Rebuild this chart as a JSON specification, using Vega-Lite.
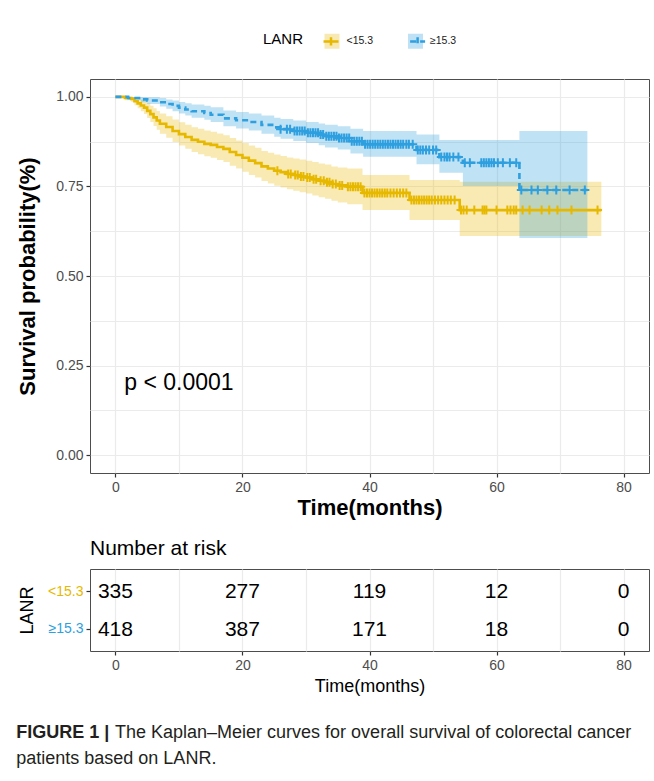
{
  "$schema": "https://vega.github.io/schema/vega-lite/v6.json",
  "padding": {"left": 16, "top": 32, "right": 5, "bottom": 5},
  "config": {
    "font": "Liberation Sans",
    "view": {"stroke": "#4D4D4D", "strokeWidth": 1},
    "axis": {"gridColor": "#EBEBEB", "gridWidth": 1.2, "tickColor": "#333333", "tickSize": 4, "tickWidth": 1.2, "labelColor": "#4D4D4D", "labelFontSize": 14, "labelPadding": 3, "domain": false, "titleColor": "black"}
  },
  "datasets": {
    "km": [
      {"g": "<15.3", "g2": "<15.3", "t": 0, "s": 1.0, "lo": 1.0, "hi": 1.0},
      {"g": "<15.3", "g2": "<15.3", "t": 1.5, "s": 0.997, "lo": 0.991, "hi": 1.0},
      {"g": "<15.3", "g2": "<15.3", "t": 2.5, "s": 0.994, "lo": 0.986, "hi": 1.0},
      {"g": "<15.3", "g2": "<15.3", "t": 3, "s": 0.988, "lo": 0.977, "hi": 0.999},
      {"g": "<15.3", "g2": "<15.3", "t": 3.5, "s": 0.982, "lo": 0.968, "hi": 0.996},
      {"g": "<15.3", "g2": "<15.3", "t": 4, "s": 0.976, "lo": 0.96, "hi": 0.992},
      {"g": "<15.3", "g2": "<15.3", "t": 4.5, "s": 0.97, "lo": 0.952, "hi": 0.988},
      {"g": "<15.3", "g2": "<15.3", "t": 5, "s": 0.961, "lo": 0.941, "hi": 0.982},
      {"g": "<15.3", "g2": "<15.3", "t": 5.5, "s": 0.952, "lo": 0.93, "hi": 0.975},
      {"g": "<15.3", "g2": "<15.3", "t": 6, "s": 0.943, "lo": 0.919, "hi": 0.968},
      {"g": "<15.3", "g2": "<15.3", "t": 6.5, "s": 0.934, "lo": 0.908, "hi": 0.961},
      {"g": "<15.3", "g2": "<15.3", "t": 7, "s": 0.925, "lo": 0.897, "hi": 0.954},
      {"g": "<15.3", "g2": "<15.3", "t": 8, "s": 0.916, "lo": 0.886, "hi": 0.946},
      {"g": "<15.3", "g2": "<15.3", "t": 9, "s": 0.905, "lo": 0.874, "hi": 0.937},
      {"g": "<15.3", "g2": "<15.3", "t": 10, "s": 0.896, "lo": 0.864, "hi": 0.929},
      {"g": "<15.3", "g2": "<15.3", "t": 11, "s": 0.888, "lo": 0.855, "hi": 0.922},
      {"g": "<15.3", "g2": "<15.3", "t": 12, "s": 0.88, "lo": 0.846, "hi": 0.915},
      {"g": "<15.3", "g2": "<15.3", "t": 13, "s": 0.875, "lo": 0.84, "hi": 0.911},
      {"g": "<15.3", "g2": "<15.3", "t": 14, "s": 0.869, "lo": 0.834, "hi": 0.906},
      {"g": "<15.3", "g2": "<15.3", "t": 15, "s": 0.866, "lo": 0.83, "hi": 0.903},
      {"g": "<15.3", "g2": "<15.3", "t": 16, "s": 0.86, "lo": 0.824, "hi": 0.898},
      {"g": "<15.3", "g2": "<15.3", "t": 17, "s": 0.855, "lo": 0.818, "hi": 0.893},
      {"g": "<15.3", "g2": "<15.3", "t": 18, "s": 0.846, "lo": 0.808, "hi": 0.885},
      {"g": "<15.3", "g2": "<15.3", "t": 19, "s": 0.838, "lo": 0.8, "hi": 0.878},
      {"g": "<15.3", "g2": "<15.3", "t": 20, "s": 0.83, "lo": 0.791, "hi": 0.871},
      {"g": "<15.3", "g2": "<15.3", "t": 21, "s": 0.822, "lo": 0.782, "hi": 0.864},
      {"g": "<15.3", "g2": "<15.3", "t": 22, "s": 0.815, "lo": 0.775, "hi": 0.858},
      {"g": "<15.3", "g2": "<15.3", "t": 23, "s": 0.806, "lo": 0.765, "hi": 0.849},
      {"g": "<15.3", "g2": "<15.3", "t": 24, "s": 0.8, "lo": 0.758, "hi": 0.844},
      {"g": "<15.3", "g2": "<15.3", "t": 25, "s": 0.794, "lo": 0.752, "hi": 0.839},
      {"g": "<15.3", "g2": "<15.3", "t": 26, "s": 0.79, "lo": 0.747, "hi": 0.835},
      {"g": "<15.3", "g2": "<15.3", "t": 27, "s": 0.785, "lo": 0.742, "hi": 0.831},
      {"g": "<15.3", "g2": "<15.3", "t": 28, "s": 0.782, "lo": 0.738, "hi": 0.828},
      {"g": "<15.3", "g2": "<15.3", "t": 29, "s": 0.778, "lo": 0.734, "hi": 0.825},
      {"g": "<15.3", "g2": "<15.3", "t": 30, "s": 0.775, "lo": 0.73, "hi": 0.822},
      {"g": "<15.3", "g2": "<15.3", "t": 31, "s": 0.77, "lo": 0.725, "hi": 0.818},
      {"g": "<15.3", "g2": "<15.3", "t": 32, "s": 0.766, "lo": 0.72, "hi": 0.814},
      {"g": "<15.3", "g2": "<15.3", "t": 33, "s": 0.762, "lo": 0.716, "hi": 0.811},
      {"g": "<15.3", "g2": "<15.3", "t": 34, "s": 0.757, "lo": 0.71, "hi": 0.806},
      {"g": "<15.3", "g2": "<15.3", "t": 35, "s": 0.753, "lo": 0.705, "hi": 0.803},
      {"g": "<15.3", "g2": "<15.3", "t": 36.5, "s": 0.749, "lo": 0.7, "hi": 0.8},
      {"g": "<15.3", "g2": "<15.3", "t": 38.9, "s": 0.732, "lo": 0.684, "hi": 0.782},
      {"g": "<15.3", "g2": "<15.3", "t": 46.3, "s": 0.712, "lo": 0.656, "hi": 0.768},
      {"g": "<15.3", "g2": "<15.3", "t": 54.2, "s": 0.684, "lo": 0.612, "hi": 0.763},
      {"g": "<15.3", "g2": "<15.3", "t": 76.5, "s": 0.684, "lo": 0.612, "hi": 0.763},
      {"g": "≥15.3", "g2": "≥15.3", "t": 0, "s": 1.0, "lo": 1.0, "hi": 1.0},
      {"g": "≥15.3", "g2": "≥15.3", "t": 2, "s": 0.997, "lo": 0.992, "hi": 1.0},
      {"g": "≥15.3", "g2": "≥15.3", "t": 4, "s": 0.993, "lo": 0.985, "hi": 1.0},
      {"g": "≥15.3", "g2": "≥15.3", "t": 5, "s": 0.99, "lo": 0.98, "hi": 0.999},
      {"g": "≥15.3", "g2": "≥15.3", "t": 7, "s": 0.985, "lo": 0.973, "hi": 0.997},
      {"g": "≥15.3", "g2": "≥15.3", "t": 8, "s": 0.98, "lo": 0.967, "hi": 0.993},
      {"g": "≥15.3", "g2": "≥15.3", "t": 9, "s": 0.975, "lo": 0.96, "hi": 0.99},
      {"g": "≥15.3", "g2": "≥15.3", "t": 10, "s": 0.97, "lo": 0.954, "hi": 0.986},
      {"g": "≥15.3", "g2": "≥15.3", "t": 11, "s": 0.965, "lo": 0.948, "hi": 0.982},
      {"g": "≥15.3", "g2": "≥15.3", "t": 12, "s": 0.96, "lo": 0.942, "hi": 0.979},
      {"g": "≥15.3", "g2": "≥15.3", "t": 14, "s": 0.955, "lo": 0.936, "hi": 0.975},
      {"g": "≥15.3", "g2": "≥15.3", "t": 15, "s": 0.95, "lo": 0.93, "hi": 0.971},
      {"g": "≥15.3", "g2": "≥15.3", "t": 17, "s": 0.94, "lo": 0.918, "hi": 0.962},
      {"g": "≥15.3", "g2": "≥15.3", "t": 19, "s": 0.935, "lo": 0.912, "hi": 0.958},
      {"g": "≥15.3", "g2": "≥15.3", "t": 21, "s": 0.93, "lo": 0.906, "hi": 0.954},
      {"g": "≥15.3", "g2": "≥15.3", "t": 23, "s": 0.922, "lo": 0.897, "hi": 0.948},
      {"g": "≥15.3", "g2": "≥15.3", "t": 25, "s": 0.915, "lo": 0.889, "hi": 0.942},
      {"g": "≥15.3", "g2": "≥15.3", "t": 26, "s": 0.91, "lo": 0.883, "hi": 0.938},
      {"g": "≥15.3", "g2": "≥15.3", "t": 28, "s": 0.905, "lo": 0.877, "hi": 0.934},
      {"g": "≥15.3", "g2": "≥15.3", "t": 30, "s": 0.9, "lo": 0.871, "hi": 0.93},
      {"g": "≥15.3", "g2": "≥15.3", "t": 32, "s": 0.895, "lo": 0.865, "hi": 0.926},
      {"g": "≥15.3", "g2": "≥15.3", "t": 33, "s": 0.89, "lo": 0.859, "hi": 0.922},
      {"g": "≥15.3", "g2": "≥15.3", "t": 35, "s": 0.885, "lo": 0.853, "hi": 0.918},
      {"g": "≥15.3", "g2": "≥15.3", "t": 37, "s": 0.876, "lo": 0.842, "hi": 0.911},
      {"g": "≥15.3", "g2": "≥15.3", "t": 39, "s": 0.868, "lo": 0.833, "hi": 0.905},
      {"g": "≥15.3", "g2": "≥15.3", "t": 47.4, "s": 0.852, "lo": 0.812, "hi": 0.895},
      {"g": "≥15.3", "g2": "≥15.3", "t": 51, "s": 0.832, "lo": 0.788, "hi": 0.88},
      {"g": "≥15.3", "g2": "≥15.3", "t": 54.7, "s": 0.816, "lo": 0.751, "hi": 0.88},
      {"g": "≥15.3", "g2": "≥15.3", "t": 63.6, "s": 0.74, "lo": 0.606, "hi": 0.905},
      {"g": "≥15.3", "g2": "≥15.3", "t": 74.3, "s": 0.74, "lo": 0.606, "hi": 0.905}
    ],
    "cens": [
      {"g": "≥15.3", "t": 26, "s": 0.91}, {"g": "≥15.3", "t": 27, "s": 0.91}, {"g": "≥15.3", "t": 27.5, "s": 0.91},
      {"g": "≥15.3", "t": 28.2, "s": 0.905}, {"g": "≥15.3", "t": 28.6, "s": 0.905}, {"g": "≥15.3", "t": 29, "s": 0.905}, {"g": "≥15.3", "t": 29.4, "s": 0.905}, {"g": "≥15.3", "t": 29.8, "s": 0.905},
      {"g": "≥15.3", "t": 30.3, "s": 0.9}, {"g": "≥15.3", "t": 30.7, "s": 0.9}, {"g": "≥15.3", "t": 31.1, "s": 0.9}, {"g": "≥15.3", "t": 31.5, "s": 0.9}, {"g": "≥15.3", "t": 31.9, "s": 0.9},
      {"g": "≥15.3", "t": 32.3, "s": 0.895}, {"g": "≥15.3", "t": 32.7, "s": 0.895},
      {"g": "≥15.3", "t": 33.2, "s": 0.89}, {"g": "≥15.3", "t": 33.6, "s": 0.89}, {"g": "≥15.3", "t": 34, "s": 0.89}, {"g": "≥15.3", "t": 34.4, "s": 0.89}, {"g": "≥15.3", "t": 34.8, "s": 0.89},
      {"g": "≥15.3", "t": 35.2, "s": 0.885}, {"g": "≥15.3", "t": 35.6, "s": 0.885}, {"g": "≥15.3", "t": 36, "s": 0.885}, {"g": "≥15.3", "t": 36.4, "s": 0.885}, {"g": "≥15.3", "t": 36.8, "s": 0.885},
      {"g": "≥15.3", "t": 37.2, "s": 0.876}, {"g": "≥15.3", "t": 37.6, "s": 0.876}, {"g": "≥15.3", "t": 38, "s": 0.876}, {"g": "≥15.3", "t": 38.4, "s": 0.876}, {"g": "≥15.3", "t": 38.8, "s": 0.876},
      {"g": "≥15.3", "t": 39.3, "s": 0.868}, {"g": "≥15.3", "t": 39.7, "s": 0.868}, {"g": "≥15.3", "t": 40.1, "s": 0.868}, {"g": "≥15.3", "t": 40.5, "s": 0.868}, {"g": "≥15.3", "t": 40.9, "s": 0.868},
      {"g": "≥15.3", "t": 41.3, "s": 0.868}, {"g": "≥15.3", "t": 41.7, "s": 0.868}, {"g": "≥15.3", "t": 42.1, "s": 0.868}, {"g": "≥15.3", "t": 42.5, "s": 0.868}, {"g": "≥15.3", "t": 42.9, "s": 0.868},
      {"g": "≥15.3", "t": 43.3, "s": 0.868}, {"g": "≥15.3", "t": 43.7, "s": 0.868}, {"g": "≥15.3", "t": 44.1, "s": 0.868}, {"g": "≥15.3", "t": 44.5, "s": 0.868}, {"g": "≥15.3", "t": 44.9, "s": 0.868},
      {"g": "≥15.3", "t": 45.3, "s": 0.868}, {"g": "≥15.3", "t": 45.8, "s": 0.868}, {"g": "≥15.3", "t": 46.2, "s": 0.868}, {"g": "≥15.3", "t": 46.8, "s": 0.868},
      {"g": "≥15.3", "t": 47.6, "s": 0.852}, {"g": "≥15.3", "t": 48, "s": 0.852}, {"g": "≥15.3", "t": 48.4, "s": 0.852}, {"g": "≥15.3", "t": 48.9, "s": 0.852}, {"g": "≥15.3", "t": 49.4, "s": 0.852}, {"g": "≥15.3", "t": 50, "s": 0.852}, {"g": "≥15.3", "t": 50.5, "s": 0.852},
      {"g": "≥15.3", "t": 51.3, "s": 0.832}, {"g": "≥15.3", "t": 51.8, "s": 0.832}, {"g": "≥15.3", "t": 52.2, "s": 0.832}, {"g": "≥15.3", "t": 52.6, "s": 0.832}, {"g": "≥15.3", "t": 53.2, "s": 0.832}, {"g": "≥15.3", "t": 54, "s": 0.832},
      {"g": "≥15.3", "t": 55, "s": 0.816}, {"g": "≥15.3", "t": 55.8, "s": 0.816}, {"g": "≥15.3", "t": 57.6, "s": 0.816}, {"g": "≥15.3", "t": 58, "s": 0.816}, {"g": "≥15.3", "t": 58.4, "s": 0.816}, {"g": "≥15.3", "t": 58.8, "s": 0.816}, {"g": "≥15.3", "t": 59.2, "s": 0.816}, {"g": "≥15.3", "t": 59.6, "s": 0.816}, {"g": "≥15.3", "t": 60.2, "s": 0.816}, {"g": "≥15.3", "t": 61, "s": 0.816}, {"g": "≥15.3", "t": 62.1, "s": 0.816}, {"g": "≥15.3", "t": 63.1, "s": 0.816},
      {"g": "≥15.3", "t": 63.9, "s": 0.74}, {"g": "≥15.3", "t": 65.5, "s": 0.74}, {"g": "≥15.3", "t": 66.5, "s": 0.74}, {"g": "≥15.3", "t": 68, "s": 0.74}, {"g": "≥15.3", "t": 69.4, "s": 0.74}, {"g": "≥15.3", "t": 71.5, "s": 0.74}, {"g": "≥15.3", "t": 73.9, "s": 0.74},
      {"g": "<15.3", "t": 25.5, "s": 0.794}, {"g": "<15.3", "t": 27.2, "s": 0.785}, {"g": "<15.3", "t": 27.6, "s": 0.785}, {"g": "<15.3", "t": 28.3, "s": 0.782}, {"g": "<15.3", "t": 28.7, "s": 0.782},
      {"g": "<15.3", "t": 29.2, "s": 0.778}, {"g": "<15.3", "t": 29.6, "s": 0.778}, {"g": "<15.3", "t": 30.2, "s": 0.775}, {"g": "<15.3", "t": 30.6, "s": 0.775}, {"g": "<15.3", "t": 31.2, "s": 0.77}, {"g": "<15.3", "t": 31.6, "s": 0.77},
      {"g": "<15.3", "t": 32.3, "s": 0.766}, {"g": "<15.3", "t": 32.8, "s": 0.766}, {"g": "<15.3", "t": 33.3, "s": 0.762}, {"g": "<15.3", "t": 33.7, "s": 0.762}, {"g": "<15.3", "t": 34.2, "s": 0.757}, {"g": "<15.3", "t": 34.7, "s": 0.757},
      {"g": "<15.3", "t": 35.3, "s": 0.753}, {"g": "<15.3", "t": 35.7, "s": 0.753}, {"g": "<15.3", "t": 36.6, "s": 0.749}, {"g": "<15.3", "t": 37, "s": 0.749}, {"g": "<15.3", "t": 37.4, "s": 0.749}, {"g": "<15.3", "t": 37.8, "s": 0.749}, {"g": "<15.3", "t": 38.2, "s": 0.749}, {"g": "<15.3", "t": 38.6, "s": 0.749},
      {"g": "<15.3", "t": 39.2, "s": 0.732}, {"g": "<15.3", "t": 39.6, "s": 0.732}, {"g": "<15.3", "t": 40, "s": 0.732}, {"g": "<15.3", "t": 40.4, "s": 0.732}, {"g": "<15.3", "t": 40.8, "s": 0.732}, {"g": "<15.3", "t": 41.2, "s": 0.732}, {"g": "<15.3", "t": 41.6, "s": 0.732}, {"g": "<15.3", "t": 42, "s": 0.732}, {"g": "<15.3", "t": 42.4, "s": 0.732}, {"g": "<15.3", "t": 42.8, "s": 0.732},
      {"g": "<15.3", "t": 43.3, "s": 0.732}, {"g": "<15.3", "t": 43.8, "s": 0.732}, {"g": "<15.3", "t": 44.3, "s": 0.732}, {"g": "<15.3", "t": 44.8, "s": 0.732}, {"g": "<15.3", "t": 45.3, "s": 0.732}, {"g": "<15.3", "t": 45.8, "s": 0.732},
      {"g": "<15.3", "t": 46.6, "s": 0.712}, {"g": "<15.3", "t": 47, "s": 0.712}, {"g": "<15.3", "t": 47.4, "s": 0.712}, {"g": "<15.3", "t": 47.8, "s": 0.712}, {"g": "<15.3", "t": 48.2, "s": 0.712}, {"g": "<15.3", "t": 48.6, "s": 0.712}, {"g": "<15.3", "t": 49, "s": 0.712}, {"g": "<15.3", "t": 49.4, "s": 0.712}, {"g": "<15.3", "t": 49.8, "s": 0.712},
      {"g": "<15.3", "t": 50.3, "s": 0.712}, {"g": "<15.3", "t": 50.8, "s": 0.712}, {"g": "<15.3", "t": 51.3, "s": 0.712}, {"g": "<15.3", "t": 51.8, "s": 0.712}, {"g": "<15.3", "t": 52.3, "s": 0.712}, {"g": "<15.3", "t": 52.8, "s": 0.712}, {"g": "<15.3", "t": 53.4, "s": 0.712},
      {"g": "<15.3", "t": 54.4, "s": 0.684}, {"g": "<15.3", "t": 54.8, "s": 0.684}, {"g": "<15.3", "t": 55.3, "s": 0.684}, {"g": "<15.3", "t": 56.5, "s": 0.684}, {"g": "<15.3", "t": 57.8, "s": 0.684}, {"g": "<15.3", "t": 58.1, "s": 0.684}, {"g": "<15.3", "t": 58.4, "s": 0.684}, {"g": "<15.3", "t": 60, "s": 0.684},
      {"g": "<15.3", "t": 61.7, "s": 0.684}, {"g": "<15.3", "t": 62.2, "s": 0.684}, {"g": "<15.3", "t": 62.7, "s": 0.684}, {"g": "<15.3", "t": 63.1, "s": 0.684}, {"g": "<15.3", "t": 64.1, "s": 0.684}, {"g": "<15.3", "t": 65.2, "s": 0.684}, {"g": "<15.3", "t": 67.1, "s": 0.684}, {"g": "<15.3", "t": 68.3, "s": 0.684}, {"g": "<15.3", "t": 69.6, "s": 0.684}, {"g": "<15.3", "t": 71.8, "s": 0.684}, {"g": "<15.3", "t": 75.9, "s": 0.684}
    ],
    "risk": [
      {"g": "<15.3", "t": 0, "n": 335}, {"g": "<15.3", "t": 20, "n": 277}, {"g": "<15.3", "t": 40, "n": 119}, {"g": "<15.3", "t": 60, "n": 12}, {"g": "<15.3", "t": 80, "n": 0},
      {"g": "≥15.3", "t": 0, "n": 418}, {"g": "≥15.3", "t": 20, "n": 387}, {"g": "≥15.3", "t": 40, "n": 171}, {"g": "≥15.3", "t": 60, "n": 18}, {"g": "≥15.3", "t": 80, "n": 0}
    ]
  },
  "title": {
    "text": "FIGURE 1 |",
    "subtitle": "patients based on LANR.",
    "orient": "bottom",
    "anchor": "start",
    "frame": "bounds",
    "offset": 0,
    "dy": -18,
    "fontSize": 18,
    "fontWeight": "bold",
    "color": "#231F20",
    "subtitleFontSize": 18,
    "subtitleFontWeight": "normal",
    "subtitleColor": "#231F20",
    "subtitlePadding": 8
  },
  "spacing": 18,
  "vconcat": [
    {
      "width": 559,
      "height": 394,
      "layer": [
        {
          "data": {"name": "km"},
          "mark": {"type": "area", "interpolate": "step-after", "fillOpacity": 0.3},
          "encoding": {
            "x": {"field": "t", "type": "quantitative", "scale": {"domain": [-4, 84], "nice": false, "zero": false},
              "axis": {"values": [0, 10, 20, 30, 40, 50, 60, 70, 80], "labelExpr": "datum.value % 20 === 0 ? datum.label : ''",
                "tickColor": {"condition": {"test": "datum.value % 20 !== 0", "value": "transparent"}, "value": "#333333"},
                "title": "Time(months)", "titleFontSize": 22, "titleFontWeight": "bold", "titlePadding": 3}},
            "y": {"field": "lo", "type": "quantitative", "scale": {"domain": [-0.05, 1.05], "nice": false, "zero": false},
              "axis": {"values": [0, 0.125, 0.25, 0.375, 0.5, 0.625, 0.75, 0.875, 1], "labelExpr": "(datum.value * 8) % 2 === 0 ? format(datum.value, '.2f') : ''",
                "tickColor": {"condition": {"test": "(datum.value * 8) % 2 !== 0", "value": "transparent"}, "value": "#333333"},
                "title": "Survival probability(%)", "titleFontSize": 22, "titleFontWeight": "bold", "titlePadding": 16}},
            "y2": {"field": "hi"},
            "fill": {"field": "g", "type": "nominal", "scale": {"range": ["#E7B800", "#2E9FDF"]},
              "legend": {"orient": "none", "legendX": 173, "legendY": -47, "direction": "horizontal", "title": "LANR", "titleOrient": "left",
                "titleFontSize": 15, "titleFontWeight": "normal", "titleColor": "black", "titlePadding": 19, "titleBaseline": "line-bottom", "titleLineHeight": 7.5,
                "labelFontSize": 10.5, "labelColor": "#1A1A1A", "labelOffset": 5.5, "columnPadding": 28.5, "padding": 0,
                "symbolType": "square", "symbolSize": 225, "symbolOpacity": 0.3, "symbolStrokeWidth": 2.5, "symbolStrokeColor": "transparent"}}
          }
        },
        {
          "data": {"name": "km"},
          "mark": {"type": "line", "interpolate": "step-after", "strokeWidth": 2.6},
          "encoding": {
            "x": {"field": "t", "type": "quantitative"},
            "y": {"field": "s", "type": "quantitative"},
            "stroke": {"field": "g2", "type": "nominal", "scale": {"range": ["#E7B800", "#2E9FDF"]},
              "legend": {"orient": "none", "legendX": 232, "legendY": -47, "direction": "horizontal", "title": null,
                "labelFontSize": 10.5, "labelOffset": 0, "labelExpr": "''", "columnPadding": 60.6, "padding": 0,
                "symbolType": "M-1,0H1M0,-0.55V0.55", "symbolSize": 225, "symbolStrokeWidth": 2.5, "symbolFillColor": "transparent"}},
            "strokeDash": {"field": "g2", "type": "nominal", "scale": {"range": [[1, 0], [6, 4]]},
              "legend": {"orient": "none", "legendX": 232, "legendY": -47, "direction": "horizontal", "title": null,
                "labelFontSize": 10.5, "labelOffset": 0, "labelExpr": "''", "columnPadding": 60.6, "padding": 0,
                "symbolType": "M-1,0H1M0,-0.55V0.55", "symbolSize": 225, "symbolStrokeWidth": 2.5, "symbolFillColor": "transparent"}}
          }
        },
        {
          "data": {"name": "cens"},
          "mark": {"type": "point", "shape": "M-1,0H1M0,-1V1", "filled": false, "strokeWidth": 2, "size": 81, "opacity": 1},
          "encoding": {
            "x": {"field": "t", "type": "quantitative"},
            "y": {"field": "s", "type": "quantitative"},
            "color": {"field": "g", "type": "nominal", "scale": {"range": ["#E7B800", "#2E9FDF"]}, "legend": null}
          }
        },
        {
          "data": {"values": [{"label": "p < 0.0001", "t": 1.4, "s": 0.2}]},
          "mark": {"type": "text", "align": "left", "baseline": "middle", "fontSize": 23, "color": "black"},
          "encoding": {
            "x": {"field": "t", "type": "quantitative"},
            "y": {"field": "s", "type": "quantitative"},
            "text": {"field": "label"}
          }
        }
      ]
    },
    {
      "width": 559,
      "height": 82,
      "title": {"text": "Number at risk", "anchor": "start", "frame": "group", "fontSize": 21, "fontWeight": "normal", "color": "black", "offset": 10},
      "data": {"name": "risk"},
      "mark": {"type": "text", "fontSize": 21, "color": "black", "dy": 1},
      "encoding": {
        "x": {"field": "t", "type": "quantitative", "scale": {"domain": [-4, 84], "nice": false, "zero": false},
          "axis": {"values": [0, 10, 20, 30, 40, 50, 60, 70, 80], "labelExpr": "datum.value % 20 === 0 ? datum.label : ''",
            "tickColor": {"condition": {"test": "datum.value % 20 !== 0", "value": "transparent"}, "value": "#333333"},
            "title": "Time(months)", "titleFontSize": 18, "titleFontWeight": "normal", "titlePadding": 5}},
        "y": {"field": "g", "type": "ordinal", "scale": {"type": "point", "padding": 0.6, "domain": ["<15.3", "≥15.3"]},
          "axis": {"title": "LANR", "titleFontSize": 18, "titleFontWeight": "normal", "titlePadding": 11,
            "labelColor": {"condition": {"test": "datum.value === '<15.3'", "value": "#E7B800"}, "value": "#2E9FDF"}}},
        "text": {"field": "n", "type": "quantitative"}
      }
    },
    {
      "width": 559,
      "height": 1,
      "view": {"stroke": null},
      "title": {"text": "The Kaplan–Meier curves for overall survival of colorectal cancer", "orient": "bottom", "anchor": "start", "frame": "group", "dx": 25,
        "fontSize": 18, "fontWeight": "normal", "color": "#231F20", "offset": 4},
      "data": {"values": [{"t": 0}]},
      "mark": {"type": "point", "opacity": 0}
    }
  ]
}
